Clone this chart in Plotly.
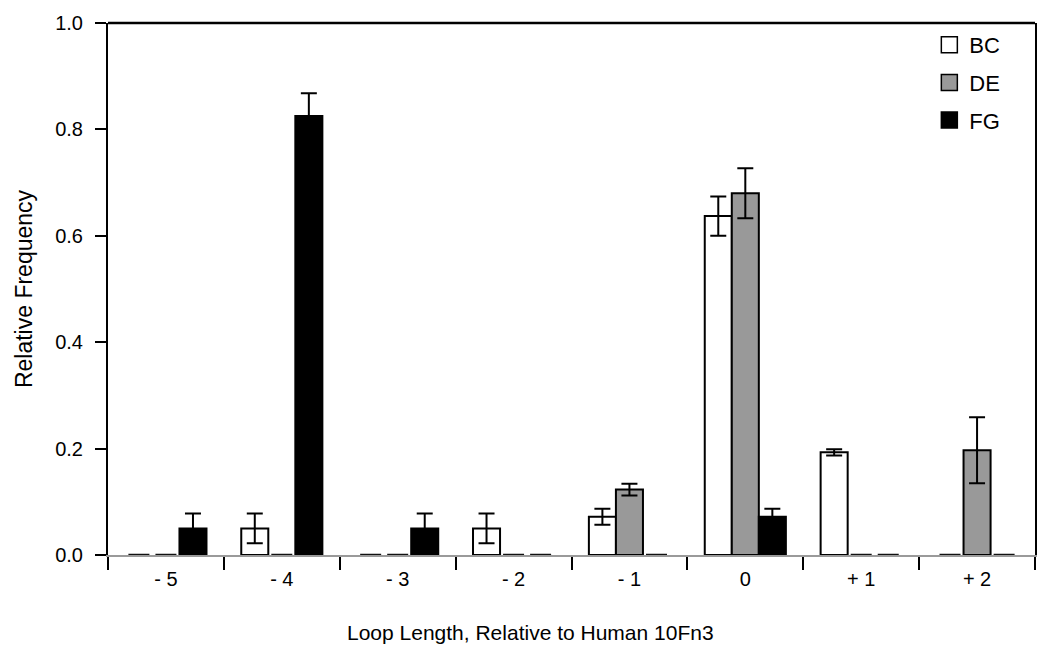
import plotly.graph_objects as go

categories = ["- 5", "- 4", "- 3", "- 2", "- 1", "0", "+ 1", "+ 2"]
series_names = ["BC", "DE", "FG"]
bc_values = [0.0, 0.05, 0.0, 0.05, 0.072, 0.637, 0.193, 0.0]
bc_errors = [0.0, 0.028, 0.0, 0.028, 0.015, 0.037, 0.006, 0.0]
de_values = [0.0, 0.0, 0.0, 0.0, 0.123, 0.680, 0.0, 0.197]
de_errors = [0.0, 0.0, 0.0, 0.0, 0.011, 0.047, 0.0, 0.062]
fg_values = [0.05, 0.825, 0.05, 0.0, 0.0, 0.072, 0.0, 0.0]
fg_errors = [0.028, 0.043, 0.028, 0.0, 0.0, 0.015, 0.0, 0.0]
fill_colors = ["#ffffff", "#999999", "#000000"]

values = [bc_values, de_values, fg_values]
errors = [bc_errors, de_errors, fg_errors]

BARGAP = 0.3
bar_w = (1 - BARGAP) / 3
xpos = list(range(len(categories)))

fig = go.Figure()
for k, name in enumerate(series_names):
    off = (k - 1) * bar_w
    xs = [i + off for i in xpos]
    vals = values[k]
    errs = errors[k]
    nz_x = [x for x, v in zip(xs, vals) if v > 0]
    nz_v = [v for v in vals if v > 0]
    nz_e = [e for v, e in zip(vals, errs) if v > 0]
    fig.add_trace(go.Bar(
        x=nz_x, y=nz_v, width=bar_w, name=name, showlegend=False,
        marker=dict(color=fill_colors[k], line=dict(color="#000000", width=2)),
        error_y=dict(type="data", array=nz_e, visible=True, color="#000000",
                     thickness=2, width=8),
    ))
    z_x = [x for x, v in zip(xs, vals) if v == 0]
    fig.add_trace(go.Scatter(
        x=z_x, y=[0] * len(z_x), mode="markers", showlegend=False, hoverinfo="skip",
        marker=dict(symbol="line-ew", size=15, line=dict(color="#111111", width=2.5)),
        cliponaxis=False,
    ))

for k, name in enumerate(series_names):
    fig.add_trace(go.Scatter(
        x=[None], y=[None], mode="markers", name=name, legendgroup=name,
        marker=dict(symbol="square", size=16, color=fill_colors[k],
                    line=dict(color="#000000", width=1.5)),
    ))

boundaries = [i - 0.5 for i in range(len(categories) + 1)]

fig.update_layout(
    width=1050, height=659,
    margin=dict(l=108, r=15, t=19, b=104),
    paper_bgcolor="white", plot_bgcolor="white",
    font=dict(family="Liberation Sans, Arial, sans-serif", size=20, color="#000000"),
    barmode="overlay",
    showlegend=True,
    legend=dict(x=0.968, xanchor="right", y=0.998, yanchor="top",
                font=dict(size=22), bgcolor="rgba(0,0,0,0)",
                traceorder="grouped", tracegroupgap=6,
                itemwidth=30),
    xaxis=dict(
        range=[-0.5, len(categories) - 0.5],
        tickvals=xpos, ticktext=categories, ticks="", ticklen=0,
        showgrid=False, zeroline=False,
        showline=True, linecolor="#9a9a9a", linewidth=1.5,
        minor=dict(tickvals=boundaries, ticks="outside", ticklen=13,
                   tickcolor="#000000", tickwidth=1.5, showgrid=False),
        tickfont=dict(size=20), ticklabelstandoff=5,
    ),
    yaxis=dict(
        range=[0, 1], tickvals=[0, 0.2, 0.4, 0.6, 0.8, 1.0], tickformat=".1f",
        ticks="outside", ticklen=11, tickwidth=2, tickcolor="#000000",
        showgrid=False, zeroline=False,
        showline=True, linecolor="#000000", linewidth=2, mirror=True,
        tickfont=dict(size=20), ticklabelstandoff=8,
        title=dict(text="Relative Frequency", font=dict(size=23), standoff=16),
    ),
    annotations=[dict(text="Loop Length, Relative to Human 10Fn3", xref="paper", yref="paper",
                      x=0.456, y=-0.145, xanchor="center", yanchor="middle",
                      showarrow=False, font=dict(size=21))],
    shapes=[dict(type="line", xref="paper", yref="paper", x0=0, x1=1, y0=1, y1=1,
                 line=dict(color="#000000", width=2.5))],
)

fig.write_html("out.html", config={"displayModeBar": False},
               post_script="document.body.style.margin='0';document.body.style.overflow='hidden';")
